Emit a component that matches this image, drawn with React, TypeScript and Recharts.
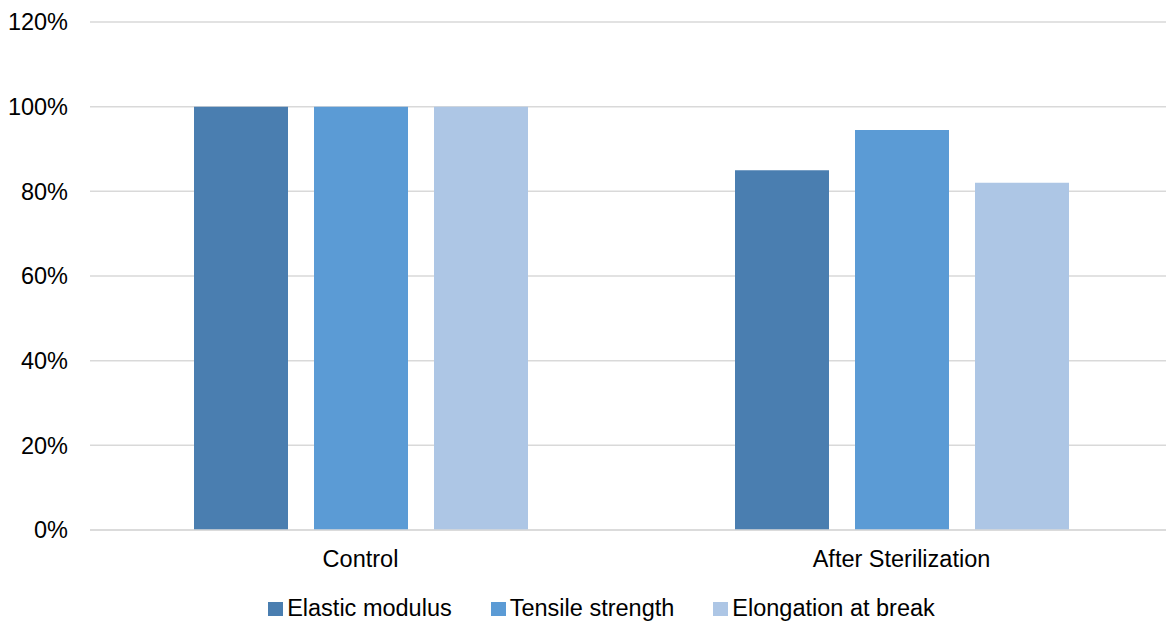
import React from "react";
import { BarChart, Bar, XAxis, YAxis, CartesianGrid, Legend } from "recharts";

const categories = ["Control", "After Sterilization"];
const elasticModulus = [1.0, 0.85];
const tensileStrength = [1.0, 0.945];
const elongationAtBreak = [1.0, 0.82];
const yTicks = [0, 0.2, 0.4, 0.6, 0.8, 1.0, 1.2];

const seriesNames = ["Elastic modulus", "Tensile strength", "Elongation at break"];
const seriesColors = ["#4a7eb0", "#5b9bd5", "#adc6e5"];

const data = categories.map((c, i) => ({
  name: c,
  em: elasticModulus[i],
  ts: tensileStrength[i],
  eb: elongationAtBreak[i],
}));

const FONT = '"Liberation Sans", Arial, sans-serif';

const LegendContent = () => (
  <div
    style={{
      display: "flex",
      justifyContent: "center",
      alignItems: "center",
      paddingLeft: 31,
      paddingTop: 16,
      boxSizing: "border-box",
      fontFamily: FONT,
      fontSize: 23.5,
      color: "#000",
      height: 41,
    }}
  >
    {seriesNames.map((n, i) => (
      <div key={n} style={{ display: "flex", alignItems: "center", marginRight: i < 2 ? 39 : 0 }}>
        <span style={{ display: "inline-block", width: 15, height: 14, background: seriesColors[i], marginRight: 4 }} />
        <span>{n}</span>
      </div>
    ))}
  </div>
);

export default function App() {
  return (
    <div style={{ position: "absolute", left: 0, top: 0, width: 1166, height: 621, background: "#fff", overflow: "hidden" }}>
      <BarChart
        width={1166}
        height={621}
        data={data}
        margin={{ top: 22, right: -6, left: 0, bottom: 0 }}
        barSize={94}
        barGap={26}
      >
        <CartesianGrid vertical={false} stroke="#d9d9d9" strokeWidth={1.5} />
        <XAxis
          dataKey="name"
          height={50}
          axisLine={{ stroke: "#d9d9d9", strokeWidth: 1.5 }}
          tickLine={false}
          tickSize={0}
          tickMargin={20}
          tick={{ fill: "#000", fontSize: 23.5, fontFamily: FONT }}
        />
        <YAxis
          width={90}
          domain={[0, 1.2]}
          ticks={yTicks}
          axisLine={false}
          tickLine={false}
          tickSize={0}
          tickMargin={22}
          tickFormatter={(v: number) => `${Math.round(v * 100)}%`}
          tick={{ fill: "#000", fontSize: 23.5, fontFamily: FONT }}
        />
        <Legend verticalAlign="bottom" height={41} content={<LegendContent />} />
        <Bar dataKey="em" name={seriesNames[0]} fill={seriesColors[0]} isAnimationActive={false} />
        <Bar dataKey="ts" name={seriesNames[1]} fill={seriesColors[1]} isAnimationActive={false} />
        <Bar dataKey="eb" name={seriesNames[2]} fill={seriesColors[2]} isAnimationActive={false} />
      </BarChart>
    </div>
  );
}
